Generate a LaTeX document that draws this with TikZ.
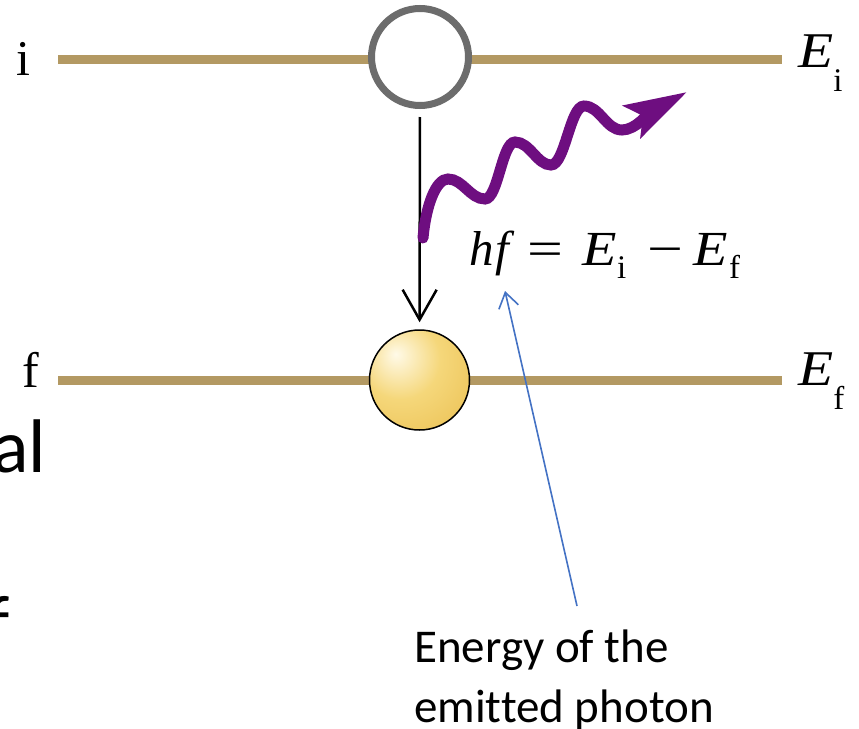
\documentclass[tikz,border=0pt]{standalone}
\usepackage{graphicx}
\usepackage{fontspec}
\setmainfont{Liberation Serif}
\newfontfamily\calibfont[Ligatures=NoCommon]{Carlito}
\usetikzlibrary{arrows.meta}
\definecolor{levelcol}{RGB}{179,153,99}
\definecolor{ringgray}{RGB}{108,108,108}
\definecolor{photoncol}{RGB}{110,14,128}
\definecolor{notecol}{RGB}{68,114,196}
\definecolor{ballhi}{RGB}{255,250,232}
\definecolor{ballmid}{RGB}{245,215,122}
\definecolor{balledge}{RGB}{232,186,72}
\pgfdeclareradialshading{goldball}{\pgfpoint{-12bp}{13bp}}{color(0bp)=(ballhi); color(20bp)=(ballmid); color(52bp)=(balledge); color(100bp)=(balledge)}
\tikzset{
  levelline/.style={levelcol, line width=9pt},
  serlbl/.style={font=\fontsize{50}{60}\selectfont, inner sep=0pt},
  slidetxt/.style={font=\calibfont\fontsize{76}{90}\selectfont, inner sep=0pt, anchor=base west},
  notetxt/.style={font=\calibfont\fontsize{47}{58}\selectfont, inner sep=0pt, anchor=base west},
}
\newcommand{\subsc}[2]{\raisebox{#1}{\fontsize{33}{33}\selectfont #2}}
\newcommand{\wideop}[1]{\scalebox{1.3}[1]{#1}}
\newcommand{\bigE}{\scalebox{1.15}[1]{\textit{E}}}
\begin{document}
\begin{tikzpicture}[x=1pt,y=-1pt]
\useasboundingbox (0,0) rectangle (859,728);
\fill[white] (0,0) rectangle (859,728);
% energy levels
\coordinate (iL) at (58,59);  \coordinate (iR) at (782,59);
\coordinate (fL) at (58,380); \coordinate (fR) at (782,380);
\draw[levelline] (iL) -- (iR);
\draw[levelline] (fL) -- (fR);
% level labels
\node[serlbl, anchor=base] (lvi) at (23,75) {i};
\node[serlbl, anchor=base] (lvf) at (31,387) {f};
\node[serlbl, anchor=base west] (Ei) at (798,67) {\bigE\subsc{-24pt}{i}};
\node[serlbl, anchor=base west] (Ef) at (798,385) {\bigE\subsc{-24pt}{f}};
% electron states
\node[draw=ringgray, fill=white, line width=7pt, circle, minimum size=97pt, inner sep=0pt] (upper) at (420,57) {};
\node[draw=black, line width=1.5pt, circle, minimum size=100pt, inner sep=0pt, shading=goldball] (lower) at (419.5,380) {};
% transition arrow
\draw[line width=2.5pt, -{Straight Barb[length=30pt,width=34pt]}, shorten <=8pt, shorten >=7pt] (upper) -- (lower);
% photon
\coordinate (phStart) at (423,238);
\coordinate (phTip) at (687,92);
\draw[photoncol, line width=11pt, line cap=round, -{Stealth[length=62pt,width=36pt,inset=12pt]}]
  (phStart) .. controls (426,205) and (436,179) .. (448,179)
  .. controls (463,179) and (470,199) .. (485,199)
  .. controls (498,199) and (502,142) .. (515,142)
  .. controls (530,142) and (537,165) .. (551,165)
  .. controls (565,165) and (570,106) .. (584,106)
  .. controls (600,106) and (606,130) .. (622,130)
  .. controls (636,130) and (650,112) .. (phTip);
% formula
\node[font=\fontsize{49}{60}\selectfont, inner sep=0pt, anchor=base west] (eq) at (469,265)
  {\makebox[58pt][l]{\textit{h\kern2pt f}}\makebox[55pt][l]{\wideop{=}}\makebox[35pt][l]{\bigE}\makebox[30pt][l]{\subsc{-13pt}{i}}\makebox[46pt][l]{\wideop{−}}\makebox[36pt][l]{\bigE}\subsc{-13pt}{f}};
% slide text fragments
\node[slidetxt] (frag1) at (-8,472) {al};
\node[slidetxt] (frag2) at (-14,648) {f};
% annotation
\node[notetxt] (note1) at (414,662) {Energy of the};
\node[notetxt] (note2) at (414,722) {emitted photon};
\coordinate (noteTop) at (577,606);
\coordinate (ptr) at (505,291);
\draw[notecol, line width=1.6pt, -{Straight Barb[length=15pt,width=20pt]}] (noteTop) -- (ptr);
\end{tikzpicture}
\end{document}
